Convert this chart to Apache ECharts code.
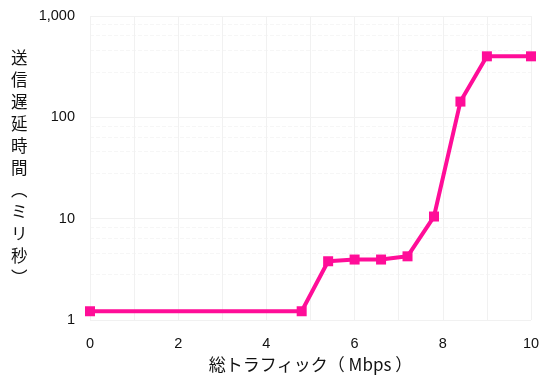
<!DOCTYPE html>
<html>
<head>
<meta charset="utf-8">
<script src="https://cdn.jsdelivr.net/npm/echarts@6/dist/echarts.min.js"></script>
<style>
html,body{margin:0;padding:0;background:#fff;}
#chart{width:548px;height:382px;}
</style>
</head>
<body>
<div id="chart"></div>
<script type="text/javascript">
// 総トラフィック (Mbps) と送信遅延時間 (ミリ秒)
var traffic = [0, 4.8, 5.4, 6, 6.6, 7.2, 7.8, 8.4, 9, 10];
var delay   = [1.22, 1.22, 3.8, 3.95, 3.95, 4.25, 10.5, 143, 400, 400];
var xTitle = '総トラフィック（ Mbps ）';
var yTitle = ['送','信','遅','延','時','間','︵','ミ','リ','秒','︶'];

var pts = traffic.map(function(x, i){ return [x, delay[i]]; });

var chart = echarts.init(document.getElementById('chart'));
var option = {
    animation: false,
    grid: {left: 90, right: 17, top: 16, bottom: 62},
    xAxis: {
        type: 'value',
        min: 0, max: 10, interval: 2,
        name: xTitle,
        nameLocation: 'middle',
        nameGap: 34,
        nameTextStyle: {fontFamily: 'Noto Sans CJK JP', fontSize: 17, color: '#111'},
        axisLine: {show: false},
        axisTick: {show: false},
        axisLabel: {margin: 16, fontFamily: 'Liberation Sans', fontSize: 14.5, color: '#111'},
        splitLine: {lineStyle: {color: '#f1f1f1'}},
        minorTick: {show: false, splitNumber: 2},
        minorSplitLine: {show: true, lineStyle: {color: '#f1f1f1'}}
    },
    yAxis: {
        type: 'log',
        logBase: 10,
        min: 1, max: 1000,
        axisLine: {show: false},
        axisTick: {show: false},
        axisLabel: {
            margin: 15, fontFamily: 'Liberation Sans', fontSize: 14.5, color: '#111',
            formatter: function(v){ return Math.round(v).toLocaleString('en-US'); }
        },
        splitLine: {lineStyle: {color: '#f1f1f1'}},
        minorTick: {show: false, splitNumber: 5},
        minorSplitLine: {show: true, lineStyle: {color: '#f6f6f6', type: 'dashed'}}
    },
    graphic: [{
        type: 'text',
        left: 11, top: 47,
        style: {
            text: yTitle.join('\n'),
            fontFamily: 'Noto Sans CJK JP',
            fontSize: 16.5,
            lineHeight: 22,
            fill: '#111',
            align: 'center'
        }
    }],
    series: [{
        type: 'line',
        data: pts,
        symbol: 'rect',
        symbolSize: 10,
        lineStyle: {color: '#ff0d98', width: 4},
        itemStyle: {color: '#ff0d98'}
    }]
};
chart.setOption(option);
</script>
</body>
</html>
